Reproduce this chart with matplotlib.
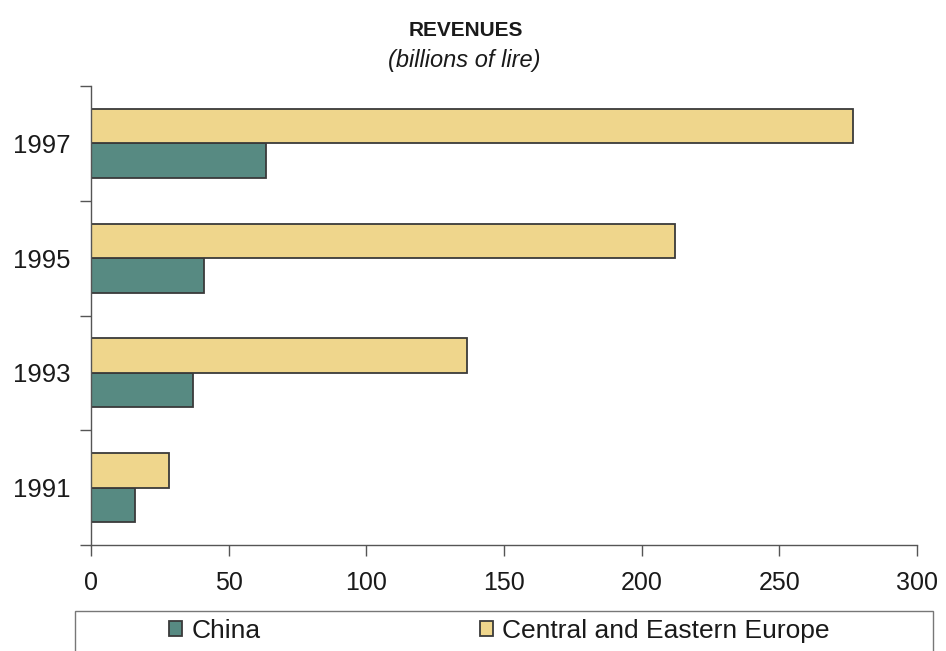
import matplotlib
matplotlib.use("Agg")
import matplotlib.pyplot as plt
from matplotlib.patches import Rectangle
import numpy as np

plt.rcParams['font.family'] = ['Liberation Sans', 'DejaVu Sans']

years = ['1991', '1993', '1995', '1997']
china = [16.0, 36.9, 41.1, 63.5]
cee = [28.4, 136.6, 212.2, 276.9]
series_names = ['China', 'Central and Eastern Europe']
xticks = [0, 50, 100, 150, 200, 250, 300]

W, H = 946, 651
fig = plt.figure(figsize=(W / 100, H / 100), dpi=100)
ax = fig.add_axes([91 / W, 1 - 545 / H, (917 - 91) / W, (545 - 86) / H])

pos = np.arange(len(years))
bh = 0.3
edge = '#3a3a3a'
c_cee = '#EFD68C'
c_china = '#578A82'
b1 = ax.barh(pos - bh / 2, china, height=bh, color=c_china, edgecolor=edge, linewidth=1.3,
             label=series_names[0])
b2 = ax.barh(pos + bh / 2, cee, height=bh, color=c_cee, edgecolor=edge, linewidth=1.3,
             label=series_names[1])

ax.set_xlim(0, 300)
ax.set_ylim(-0.5, len(years) - 0.5)
ax.set_xticks(xticks)
ax.set_xticklabels([str(t) for t in xticks])
ax.set_yticks(pos)
ax.set_yticklabels(years)
ax.set_yticks(np.arange(-0.5, len(years), 1.0), minor=True)

for s in ['top', 'right']:
    ax.spines[s].set_visible(False)
for s in ['left', 'bottom']:
    ax.spines[s].set_color('#555555')
    ax.spines[s].set_linewidth(1.0)

ax.tick_params(axis='x', direction='out', length=8, width=1, color='#555555',
               labelsize=18, pad=11, labelcolor='#1a1a1a')
ax.tick_params(axis='y', which='major', length=0, labelsize=18.5, pad=15, labelcolor='#1a1a1a')
ax.tick_params(axis='y', which='minor', direction='out', length=8, width=1, color='#555555')

fig.text(466 / W, 1 - 31 / H, 'REVENUES', ha='center', va='center', fontsize=15,
         fontweight='bold', family=['Liberation Sans Narrow', 'Liberation Sans', 'DejaVu Sans'],
         color='#1a1a1a')
fig.text(464 / W, 1 - 60 / H, '(billions of lire)', ha='center', va='center', fontsize=17,
         style='italic', color='#1a1a1a')

# legend frame
fig.patches.append(Rectangle((75 / W, -0.01), (933 - 75) / W, (1 - 611 / H) + 0.01,
                             transform=fig.transFigure, fill=False, edgecolor='#777777',
                             linewidth=1.0))
leg = fig.legend(handles=[b1, b2], labels=series_names, ncol=2, frameon=False,
                 loc='center left', bbox_to_anchor=(156 / W, 1 - 631 / H),
                 borderpad=0, handlelength=0.5, handleheight=0.5, handletextpad=0.35,
                 columnspacing=8.3, fontsize=19)
for t in leg.get_texts():
    t.set_color('#1a1a1a')

fig.savefig('out.png', dpi=100)
